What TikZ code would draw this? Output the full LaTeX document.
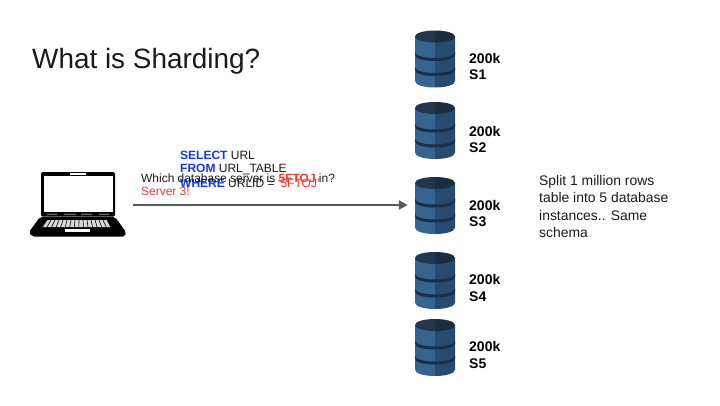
\documentclass[tikz,border=0pt]{standalone}
\usepackage{fontspec}
\setmainfont{Liberation Sans}
\definecolor{dbleft}{HTML}{356491}
\definecolor{dbright}{HTML}{274B70}
\definecolor{dbdark}{HTML}{1B2E45}
\definecolor{dbtopl}{HTML}{20374F}
\definecolor{dbtopr}{HTML}{1A2C40}
\definecolor{sqlblue}{HTML}{1238F0}
\definecolor{hotred}{HTML}{F03A33}
\definecolor{arrowgrey}{HTML}{595959}
\definecolor{ink}{HTML}{1A1A1A}
\usetikzlibrary{arrows.meta}
\tikzset{
  x=1pt,y=-1pt,
  anchorbox/.style={inner sep=0pt,minimum width=#1,minimum height=50pt},
  dblabel/.style={anchor=north west,align=left,inner sep=0pt,font=\fontsize{14}{16.5}\selectfont\bfseries,text=black},
  plain/.style={anchor=west,inner sep=0pt,font=\fontsize{11.95}{14}\selectfont,text=ink},
  sql/.style={plain,font=\fontsize{12}{14}\selectfont},
  database/.pic={
    \fill[dbleft] (-20,-23.5) -- (0,-23.5) -- (0,27.5) .. controls (-11,27.5) and (-20,25) .. (-20,21) -- cycle;
    \fill[dbright] (20,-23.5) -- (0,-23.5) -- (0,27.5) .. controls (11,27.5) and (20,25) .. (20,21) -- cycle;
    \fill[dbdark] (-20,-8) .. controls (-20,-4) and (-10,-2) .. (0,-2) .. controls (10,-2) and (20,-4) .. (20,-8) -- (20,-5) .. controls (20,-1) and (10,1) .. (0,1) .. controls (-10,1) and (-20,-1) .. (-20,-5) -- cycle;
    \fill[dbdark] (-20,7) .. controls (-20,11) and (-10,13) .. (0,13) .. controls (10,13) and (20,11) .. (20,7) -- (20,10) .. controls (20,14) and (10,16) .. (0,16) .. controls (-10,16) and (-20,14) .. (-20,10) -- cycle;
    \fill[dbtopl] (0,-29.5) .. controls (-11,-29.5) and (-20,-27) .. (-20,-23.5) .. controls (-20,-20) and (-11,-17.5) .. (0,-17.5) -- cycle;
    \fill[dbtopr] (0,-29.5) .. controls (11,-29.5) and (20,-27) .. (20,-23.5) .. controls (20,-20) and (11,-17.5) .. (0,-17.5) -- cycle;
  }
}
\begin{document}
\begin{tikzpicture}
\useasboundingbox (0,0) rectangle (720,405);
\fill[white] (0,0) rectangle (720,405);

\node[anchor=west,inner sep=0pt,font=\fontsize{27.9}{32}\selectfont,text=ink] (title) at (32,61.5) {What is Sharding?};

% laptop
\node[inner sep=0pt,minimum width=104pt,minimum height=66pt] (laptop) at (81,205) {};
\fill[black,rounded corners=1.5pt] (41,172) rectangle (115,216.5);
\fill[white] (43.5,176) rectangle (113,212);
\fill[white] (70,173) rectangle (86,174.6);
\fill[black!60] (47,213.5) rectangle (57,215) (64,213.5) rectangle (76,215) (81,213.5) rectangle (92,215) (99,213.5) rectangle (109,215);
\fill[black,rounded corners=2pt] (40,217) -- (115,217) -- (126,232) -- (125,236.5) -- (32,236.5) -- (29,232) -- cycle;
\fill[black!15] (47,220) -- (107,220) -- (111,227) -- (42,227) -- cycle;
\foreach \k in {0,...,15}{\draw[black,line width=.6pt] ({47+\k*4},220) -- ({42.5+\k*4.55},227);}
\fill[white] (65,229) rectangle (90,232);

% databases
\foreach \n/\cy in {1/60,2/131.5,3/206.5,4/281.5,5/348.5}{
  \node[anchorbox=50pt] (db\n) at (435,\cy) {};
  \pic at (db\n.center) {database};
}
\node[dblabel] (l1) at (469,53) {200k\\S1};
\node[dblabel] (l2) at (469,126) {200k\\S2};
\node[dblabel] (l3) at (469,200) {200k\\S3};
\node[dblabel] (l4) at (469,274.5) {200k\\S4};
\node[dblabel] (l5) at (469,341.5) {200k\\S5};

% connector
\coordinate (arrowend) at (db3.west |- laptop.east);
\draw[arrowgrey,line width=2.8pt,shorten >=2pt,-{Triangle[length=9pt,width=9pt]}] (laptop.east) -- (arrowend);

% texts
\node[sql] (q1) at (180,155) {\textcolor{sqlblue}{\bfseries SELECT} URL};
\node[sql] (q2) at (180,169) {\textcolor{sqlblue}{\bfseries FROM} URL\_TABLE};
\node[sql] (q3) at (180,183) {\textcolor{sqlblue}{\bfseries WHERE} URLID = \textcolor{hotred}{`5FTOJ'}};
\node[plain] (which) at (141,178) {Which database server is \textcolor{hotred}{\bfseries 5FTOJ} in?};
\node[plain,text=hotred] (answer) at (141,191.5) {Server 3!};
\node[anchor=north west,align=left,inner sep=0pt,font=\fontsize{13.9}{17.4}\selectfont,text=ink] (note) at (539,175) {Split 1 million rows\\table into 5 database\\instances.. Same\\schema};
\end{tikzpicture}
\end{document}
